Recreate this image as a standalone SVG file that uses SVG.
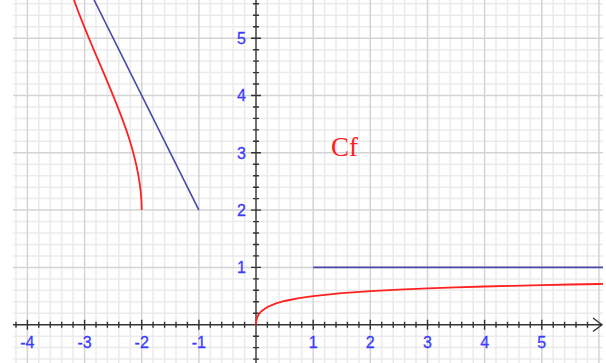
<svg xmlns="http://www.w3.org/2000/svg" width="606" height="363" viewBox="0 0 606 363">
<style>
.minor{stroke:#ebebeb;stroke-width:1.5;fill:none}
.major{stroke:#d4d4d4;stroke-width:1.5;fill:none}
.axis{stroke:#333;stroke-width:1.4;fill:none}
.lbl{font-family:"Liberation Sans",Arial,sans-serif;font-size:16px;fill:#3b3bff;stroke:#3b3bff;stroke-width:0.3}
.red{stroke:#ff2020;stroke-width:1.8;fill:none}
.blue{stroke:#4848a8;stroke-width:1.6;fill:none}
</style>
<rect width="606" height="363" fill="#fff"/>
<g id="grid">
<path class="minor" d="M16,0V363M38.8,0V363M50.3,0V363M61.7,0V363M73.1,0V363M96,0V363M107.4,0V363M118.8,0V363M130.3,0V363M153.1,0V363M164.6,0V363M176,0V363M187.4,0V363M210.3,0V363M221.7,0V363M233.1,0V363M244.6,0V363M267.4,0V363M278.9,0V363M290.3,0V363M301.7,0V363M324.6,0V363M336,0V363M347.4,0V363M358.9,0V363M381.7,0V363M393.2,0V363M404.6,0V363M416,0V363M438.9,0V363M450.3,0V363M461.7,0V363M473.2,0V363M496,0V363M507.5,0V363M518.9,0V363M530.3,0V363M553.2,0V363M564.6,0V363M576,0V363M587.5,0V363
M13,359.1H603M13,347.6H603M13,336.2H603M13,313.2H603M13,301.8H603M13,290.3H603M13,278.9H603M13,255.9H603M13,244.5H603M13,233H603M13,221.6H603M13,198.6H603M13,187.2H603M13,175.7H603M13,164.3H603M13,141.3H603M13,129.9H603M13,118.4H603M13,107H603M13,84H603M13,72.6H603M13,61.1H603M13,49.7H603M13,26.7H603M13,15.3H603M13,3.8H603"/>
<path class="major" d="M27.4,0V363M84.6,0V363M141.7,0V363M198.9,0V363M313.2,0V363M370.3,0V363M427.5,0V363M484.6,0V363M541.8,0V363M598.9,0V363M13,267.4H603M13,210.1H603M13,152.8H603M13,95.5H603M13,38.2H603"/>
</g>
<g id="axes">
<path class="axis" d="M13,324.7H602M593,318L602,324.7L593,331.5M256,0V363"/>
<path class="axis" d="M16,321.7V327.7M38.8,321.7V327.7M50.3,321.7V327.7M61.7,321.7V327.7M73.1,321.7V327.7M96,321.7V327.7M107.4,321.7V327.7M118.8,321.7V327.7M130.3,321.7V327.7M153.1,321.7V327.7M164.6,321.7V327.7M176,321.7V327.7M187.4,321.7V327.7M210.3,321.7V327.7M221.7,321.7V327.7M233.1,321.7V327.7M244.6,321.7V327.7M267.4,321.7V327.7M278.9,321.7V327.7M290.3,321.7V327.7M301.7,321.7V327.7M324.6,321.7V327.7M336,321.7V327.7M347.4,321.7V327.7M358.9,321.7V327.7M381.7,321.7V327.7M393.2,321.7V327.7M404.6,321.7V327.7M416,321.7V327.7M438.9,321.7V327.7M450.3,321.7V327.7M461.7,321.7V327.7M473.2,321.7V327.7M496,321.7V327.7M507.5,321.7V327.7M518.9,321.7V327.7M530.3,321.7V327.7M553.2,321.7V327.7M564.6,321.7V327.7M576,321.7V327.7M587.5,321.7V327.7
M27.4,319.7V329.7M84.6,319.7V329.7M141.7,319.7V329.7M198.9,319.7V329.7M313.2,319.7V329.7M370.3,319.7V329.7M427.5,319.7V329.7M484.6,319.7V329.7M541.8,319.7V329.7
M253,359.1H259M253,347.6H259M253,336.2H259M253,313.2H259M253,301.8H259M253,290.3H259M253,278.9H259M253,255.9H259M253,244.5H259M253,233H259M253,221.6H259M253,198.6H259M253,187.2H259M253,175.7H259M253,164.3H259M253,141.3H259M253,129.9H259M253,118.4H259M253,107H259M253,84H259M253,72.6H259M253,61.1H259M253,49.7H259M253,26.7H259M253,15.3H259M253,3.8H259
M251,267.4H261M251,210.1H261M251,152.8H261M251,95.5H261M251,38.2H261"/>
</g>
<g id="labels">
<text class="lbl" x="27.4" y="347.5" text-anchor="middle">-4</text>
<text class="lbl" x="84.6" y="347.5" text-anchor="middle">-3</text>
<text class="lbl" x="141.7" y="347.5" text-anchor="middle">-2</text>
<text class="lbl" x="198.9" y="347.5" text-anchor="middle">-1</text>
<text class="lbl" x="313.2" y="347.5" text-anchor="middle">1</text>
<text class="lbl" x="370.3" y="347.5" text-anchor="middle">2</text>
<text class="lbl" x="427.5" y="347.5" text-anchor="middle">3</text>
<text class="lbl" x="484.6" y="347.5" text-anchor="middle">4</text>
<text class="lbl" x="541.8" y="347.5" text-anchor="middle">5</text>
<text class="lbl" x="246" y="273.2" text-anchor="end">1</text>
<text class="lbl" x="246" y="215.9" text-anchor="end">2</text>
<text class="lbl" x="246" y="158.6" text-anchor="end">3</text>
<text class="lbl" x="246" y="101.3" text-anchor="end">4</text>
<text class="lbl" x="246" y="44" text-anchor="end">5</text>
</g>
<g id="asymptotes">
<path class="blue" d="M198.9,210.1L94.1,0"/>
<path class="blue" d="M313.2,267.4H603"/>
</g>
<g id="Cf">
<path class="red" d="M141.7,210.1C141.7,140 98.5,70 74,0"/>
<path class="red" d="M256,324.7L256.29,320.9L257.14,317.6L258.86,314.2L261.7,310.9L267.4,307L276,303.4L284.6,301L298.9,298.1L313.2,296.05L341.7,293.2L370.3,291.1L398.9,289.6L427.5,288.4L456,287.4L484.6,286.5L513.2,285.8L541.8,285.1L570.3,284.5L598.9,284L603,283.9"/>
<text x="331" y="156" font-family="'Liberation Serif','Times New Roman',serif" font-size="27" fill="#ff2020">Cf</text>
</g>
</svg>
